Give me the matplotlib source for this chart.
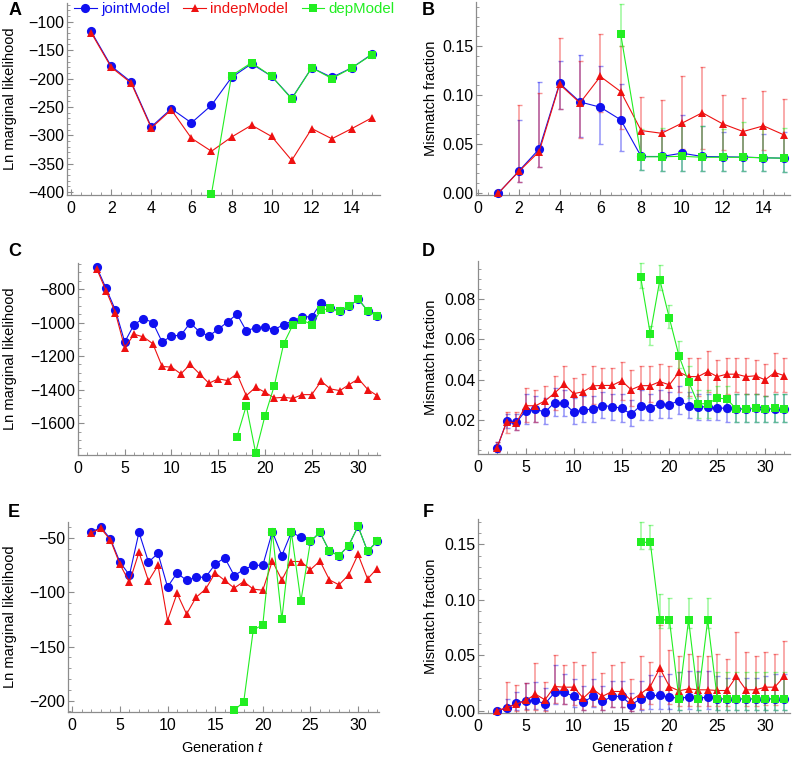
import matplotlib
matplotlib.use("Agg")
import matplotlib.pyplot as plt
from matplotlib.ticker import MultipleLocator, FuncFormatter
import numpy as np

plt.rcParams["font.family"] = ["Liberation Sans", "DejaVu Sans"]
plt.rcParams["mathtext.fontset"] = "custom"
plt.rcParams["mathtext.rm"] = "Liberation Sans"
plt.rcParams["mathtext.it"] = "Liberation Sans:italic"

# ── data ──────────────────────────────────────────────────────────────
t_short = list(range(1, 16))
t_short_dep = list(range(7, 16))
t_long = list(range(2, 33))
t_long_dep = list(range(17, 33))

# A: Ln marginal likelihood, short run
A_joint = [-117, -178, -206, -285, -253, -278, -247, -198, -174, -196, -235, -181, -198, -181, -157]
A_indep = [-119, -180, -208, -287, -255, -305, -328, -303, -282, -302, -344, -288, -306, -288, -269]
A_dep = [-403, -195, -172, -196, -236, -181, -200, -181, -158]

# B: mismatch fraction, short run (value, lower, upper)
B_joint = [0.0, 0.0224, 0.045, 0.112, 0.093, 0.0876, 0.0747, 0.0373, 0.0373, 0.0407, 0.0373, 0.037, 0.0367, 0.036, 0.0356]
B_joint_lo = [0.0, 0.011, 0.027, 0.086, 0.057, 0.050, 0.043, 0.024, 0.023, 0.023, 0.022, 0.022, 0.022, 0.022, 0.021]
B_joint_hi = [0.0, 0.075, 0.113, 0.135, 0.141, 0.130, 0.111, 0.062, 0.064, 0.080, 0.068, 0.062, 0.060, 0.060, 0.062]
B_indep = [0.0, 0.022, 0.0424, 0.111, 0.092, 0.119, 0.1035, 0.0638, 0.061, 0.0713, 0.082, 0.0706, 0.0628, 0.0686, 0.0594]
B_indep_lo = [0.0, 0.011, 0.027, 0.086, 0.056, 0.083, 0.065, 0.040, 0.040, 0.045, 0.045, 0.044, 0.040, 0.044, 0.038]
B_indep_hi = [0.0, 0.090, 0.102, 0.158, 0.135, 0.162, 0.150, 0.098, 0.095, 0.119, 0.129, 0.100, 0.097, 0.104, 0.096]
B_dep = [0.162, 0.037, 0.037, 0.0375, 0.0365, 0.0365, 0.0365, 0.036, 0.0355]
B_dep_lo = [0.150, 0.024, 0.023, 0.023, 0.022, 0.022, 0.022, 0.022, 0.021]
B_dep_hi = [0.193, 0.065, 0.066, 0.070, 0.068, 0.065, 0.073, 0.066, 0.066]

# C: Ln marginal likelihood, long run
C_joint = [-670, -796, -926, -1116, -1012, -976, -1000, -1116, -1080, -1076, -1002, -1056, -1080, -1040, -996,
           -950, -1050, -1030, -1026, -1042, -1012, -990, -966, -966, -882, -916, -932, -900, -862, -932, -960]
C_indep = [-680, -810, -942, -1150, -1070, -1086, -1126, -1262, -1266, -1306, -1250, -1306, -1362, -1336, -1346,
           -1306, -1436, -1386, -1416, -1450, -1446, -1452, -1430, -1430, -1350, -1396, -1406, -1370, -1336, -1400, -1436]
C_dep = [-1682, -1496, -1776, -1556, -1376, -1126, -1012, -986, -1012, -926, -916, -932, -900, -862, -932, -960]

# D: mismatch fraction, long run
D_joint = [0.0062, 0.0192, 0.0187, 0.0246, 0.0253, 0.0238, 0.0286, 0.0283, 0.0238, 0.025, 0.0253, 0.0271, 0.0266,
           0.0258, 0.0228, 0.0271, 0.0261, 0.028, 0.0275, 0.0296, 0.027, 0.0263, 0.0266, 0.0258, 0.0258, 0.0253,
           0.0255, 0.0257, 0.0253, 0.0256, 0.0255]
D_joint_lo = [0.004, 0.016, 0.015, 0.018, 0.019, 0.018, 0.022, 0.022, 0.018, 0.019, 0.019, 0.021, 0.020, 0.019,
              0.017, 0.020, 0.020, 0.021, 0.021, 0.023, 0.021, 0.020, 0.020, 0.020, 0.019, 0.019, 0.019, 0.019,
              0.019, 0.019, 0.019]
D_joint_hi = [0.009, 0.023, 0.023, 0.033, 0.032, 0.031, 0.036, 0.035, 0.031, 0.032, 0.032, 0.034, 0.033, 0.033,
              0.030, 0.035, 0.033, 0.035, 0.034, 0.037, 0.034, 0.033, 0.033, 0.032, 0.032, 0.033, 0.033, 0.033,
              0.032, 0.033, 0.033]
D_indep = [0.0062, 0.019, 0.0185, 0.027, 0.027, 0.0294, 0.0333, 0.0377, 0.033, 0.034, 0.0369, 0.0371, 0.0371,
           0.0394, 0.035, 0.037, 0.037, 0.039, 0.0374, 0.0437, 0.0415, 0.0415, 0.044, 0.0415, 0.0427, 0.0427,
           0.0415, 0.0419, 0.0399, 0.0435, 0.042]
D_indep_lo = [0.004, 0.0135, 0.015, 0.019, 0.019, 0.022, 0.025, 0.028, 0.025, 0.025, 0.028, 0.028, 0.028, 0.030,
              0.027, 0.028, 0.029, 0.030, 0.029, 0.034, 0.032, 0.032, 0.034, 0.033, 0.033, 0.034, 0.033, 0.033,
              0.032, 0.034, 0.034]
D_indep_hi = [0.009, 0.024, 0.024, 0.036, 0.035, 0.037, 0.042, 0.047, 0.041, 0.043, 0.047, 0.046, 0.046, 0.049,
              0.045, 0.047, 0.047, 0.048, 0.047, 0.053, 0.051, 0.051, 0.054, 0.050, 0.051, 0.051, 0.051, 0.050,
              0.048, 0.053, 0.051]
D_dep = [0.0909, 0.0628, 0.0896, 0.0705, 0.0518, 0.039, 0.028, 0.028, 0.0308, 0.0304, 0.0253, 0.0253, 0.0258,
         0.0253, 0.0258, 0.0255]
D_dep_lo = [0.0854, 0.0573, 0.0845, 0.0656, 0.0457, 0.031, 0.021, 0.021, 0.024, 0.024, 0.019, 0.019, 0.019,
            0.019, 0.019, 0.019]
D_dep_hi = [0.0979, 0.0669, 0.097, 0.077, 0.059, 0.047, 0.035, 0.035, 0.037, 0.037, 0.033, 0.033, 0.033,
            0.032, 0.033, 0.033]

# E: Ln marginal likelihood, long run (second case)
E_joint = [-44.5, -39.8, -50.6, -72, -84, -44.5, -72, -64, -95, -82, -89, -86, -86, -74, -68, -84.5, -79, -75,
           -75, -44, -66, -44.5, -49, -53, -44.5, -62, -66, -57, -39, -62, -53]
E_indep = [-45, -41, -51.5, -74, -90.6, -63, -89.4, -75, -126, -101, -120, -104.5, -97, -82, -89, -96, -90, -97,
           -98, -71, -88.5, -71.5, -71.5, -79, -71, -88.5, -93, -84, -65, -87.5, -78]
E_dep = [-209, -201, -134.7, -130, -44, -125, -44.5, -108, -53, -44.5, -62, -66, -57, -39, -62, -53]

# F: mismatch fraction, long run (second case)
F_joint = [0.0, 0.0024, 0.007, 0.009, 0.0093, 0.0063, 0.0165, 0.0168, 0.013, 0.0078, 0.013, 0.0084, 0.013, 0.013,
           0.0054, 0.0108, 0.0138, 0.0138, 0.0123, 0.0114, 0.0123, 0.0114, 0.0123, 0.0108, 0.0108, 0.0108,
           0.0108, 0.0108, 0.0108, 0.0108, 0.0108]
F_joint_lo = [0.0, 0.0, 0.001, 0.002, 0.002, 0.001, 0.006, 0.006, 0.003, 0.001, 0.003, 0.001, 0.003, 0.003, 0.0,
              0.001, 0.002, 0.002, 0.002, 0.001, 0.002, 0.001, 0.002, 0.001, 0.001, 0.001, 0.001, 0.001, 0.001,
              0.001, 0.001]
F_joint_hi = [0.0, 0.011, 0.017, 0.025, 0.026, 0.021, 0.041, 0.033, 0.029, 0.022, 0.029, 0.022, 0.027, 0.027,
              0.016, 0.027, 0.032, 0.031, 0.033, 0.035, 0.036, 0.036, 0.036, 0.031, 0.030, 0.030, 0.030, 0.030,
              0.031, 0.033, 0.033]
F_indep = [0.0, 0.003, 0.006, 0.0093, 0.015, 0.0099, 0.0219, 0.0213, 0.0213, 0.0114, 0.0195, 0.013, 0.0174,
           0.0174, 0.0093, 0.0153, 0.0219, 0.0384, 0.0219, 0.018, 0.0198, 0.0189, 0.0189, 0.0183, 0.0183, 0.031,
           0.0189, 0.0189, 0.0213, 0.0213, 0.031]
F_indep_lo = [0.0, 0.0, 0.0, 0.001, 0.001, 0.0, 0.007, 0.006, 0.005, 0.001, 0.004, 0.001, 0.003, 0.003, 0.0,
              0.002, 0.006, 0.018, 0.006, 0.004, 0.004, 0.004, 0.004, 0.004, 0.004, 0.012, 0.004, 0.004, 0.005,
              0.005, 0.012]
F_indep_hi = [0.0, 0.026, 0.023, 0.0255, 0.043, 0.026, 0.05, 0.041, 0.044, 0.041, 0.053, 0.0345, 0.041, 0.044,
              0.0285, 0.0495, 0.044, 0.0774, 0.055, 0.0495, 0.051, 0.0495, 0.0495, 0.051, 0.0465, 0.0708, 0.0534,
              0.0495, 0.0528, 0.0513, 0.063]
F_dep = [0.152, 0.152, 0.082, 0.082, 0.0108, 0.082, 0.0108, 0.082, 0.0108, 0.0108, 0.0108, 0.0108, 0.0108,
         0.0108, 0.0108, 0.0108]
F_dep_lo = [0.1455, 0.1455, 0.0744, 0.0744, 0.001, 0.0744, 0.001, 0.0744, 0.001, 0.001, 0.001, 0.001, 0.001,
            0.001, 0.001, 0.001]
F_dep_hi = [0.170, 0.168, 0.105, 0.102, 0.035, 0.102, 0.035, 0.102, 0.035, 0.035, 0.035, 0.035, 0.035,
            0.035, 0.035, 0.035]

MODELS = ["jointModel", "indepModel", "depModel"]
COR = {"jointModel": "#1010f0", "indepModel": "#ee1111", "depModel": "#22ee22"}
MARK = {"jointModel": ("o", 6.6), "indepModel": ("^", 6.0), "depModel": ("s", 5.6)}
AXCOL = "#8c8c8c"

W, H = 794, 758
fig = plt.figure(figsize=(W / 100, H / 100), dpi=100)


def eixo(l, r, t, b):
    return fig.add_axes([l / W, 1 - b / H, (r - l) / W, (b - t) / H])


def fmt_menos(fmt):
    return FuncFormatter(lambda v, p: (fmt % v).replace("-", "\u2212"))


def estilo(ax, xlim, ylim, xmaj, xmin, ymaj, ymin, fmt):
    ax.set_xlim(*xlim)
    ax.set_ylim(*ylim)
    for s in ("top", "right"):
        ax.spines[s].set_visible(False)
    for s in ("left", "bottom"):
        ax.spines[s].set_color(AXCOL)
        ax.spines[s].set_linewidth(0.9)
    ax.xaxis.set_major_locator(MultipleLocator(xmaj))
    ax.xaxis.set_minor_locator(MultipleLocator(xmin))
    ax.yaxis.set_major_locator(MultipleLocator(ymaj))
    ax.yaxis.set_minor_locator(MultipleLocator(ymin))
    ax.yaxis.set_major_formatter(fmt_menos(fmt))
    ax.tick_params(which="major", direction="in", length=4, width=0.8, color=AXCOL,
                   labelsize=11.5, pad=2)
    ax.tick_params(axis="x", which="major", pad=4)
    ax.tick_params(which="minor", direction="in", length=2.2, width=0.6, color=AXCOL)
    ax.patch.set_alpha(0)


def serie(ax, x, y, nome, lo=None, hi=None):
    cor = COR[nome]
    if lo is not None:
        y_ = np.array(y)
        err = [np.clip(y_ - np.array(lo), 0, None), np.clip(np.array(hi) - y_, 0, None)]
        ax.errorbar(x, y, yerr=err, fmt="none", ecolor=cor, alpha=0.45, elinewidth=1.1,
                    capsize=1.8, capthick=1.0, zorder=2, clip_on=False)
    m, ms = MARK[nome]
    return ax.plot(x, y, color=cor, lw=0.8, marker=m, ms=ms, mec=cor, mew=0,
                   zorder=3, clip_on=False, label=nome)[0]


# ── A ──
axA = eixo(67, 380, 3, 195)
hA = [serie(axA, t_short, A_joint, "jointModel"),
      serie(axA, t_short, A_indep, "indepModel"),
      serie(axA, t_short_dep, A_dep, "depModel")]
estilo(axA, (-0.2, 15.4), (-405, -67), 2, 0.5, 50, 10, "%d")

# ── B ──
axB = eixo(476, 790, 2, 195)
serie(axB, t_short, B_joint, "jointModel", B_joint_lo, B_joint_hi)
serie(axB, t_short, B_indep, "indepModel", B_indep_lo, B_indep_hi)
serie(axB, t_short_dep, B_dep, "depModel", B_dep_lo, B_dep_hi)
estilo(axB, (-0.1, 15.3), (-0.002, 0.195), 2, 0.5, 0.05, 0.01, "%.2f")

# ── C ──
axC = eixo(78, 380, 263, 455)
serie(axC, t_long, C_joint, "jointModel")
serie(axC, t_long, C_indep, "indepModel")
serie(axC, t_long_dep, C_dep, "depModel")
estilo(axC, (0, 32.3), (-1790, -645), 5, 1, 200, 50, "%d")

# ── D ──
axD = eixo(478, 790, 261, 454)
serie(axD, t_long, D_joint, "jointModel", D_joint_lo, D_joint_hi)
serie(axD, t_long, D_indep, "indepModel", D_indep_lo, D_indep_hi)
serie(axD, t_long_dep, D_dep, "depModel", D_dep_lo, D_dep_hi)
estilo(axD, (0, 32.6), (0.003, 0.099), 5, 1, 0.02, 0.005, "%.2f")

# ── E ──
axE = eixo(68, 379, 522, 712)
serie(axE, t_long, E_joint, "jointModel")
serie(axE, t_long, E_indep, "indepModel")
serie(axE, t_long_dep, E_dep, "depModel")
estilo(axE, (-0.45, 32.2), (-210.5, -35), 5, 1, 50, 10, "%d")

# ── F ──
axF = eixo(478, 790, 519, 713)
serie(axF, t_long, F_joint, "jointModel", F_joint_lo, F_joint_hi)
serie(axF, t_long, F_indep, "indepModel", F_indep_lo, F_indep_hi)
serie(axF, t_long_dep, F_dep, "depModel", F_dep_lo, F_dep_hi)
estilo(axF, (0, 32.6), (-0.002, 0.173), 5, 1, 0.05, 0.01, "%.2f")

# rótulos dos eixos
for ax, txt, xc in [(axA, "Ln marginal likelihood", 10), (axC, "Ln marginal likelihood", 10),
                    (axE, "Ln marginal likelihood", 10), (axB, "Mismatch fraction", 431),
                    (axD, "Mismatch fraction", 431), (axF, "Mismatch fraction", 431)]:
    pos = ax.get_position()
    fig.text(xc / W, pos.y0 + pos.height / 2, txt, rotation=90, ha="center", va="center", fontsize=10.5)

fig.text(223 / W, 1 - 748 / H, "Generation $t$", ha="center", va="center", fontsize=10.5)
fig.text(633 / W, 1 - 748 / H, "Generation $t$", ha="center", va="center", fontsize=10.5)

for letra, x, y in [("A", 9, 2), ("B", 422, 2), ("C", 8, 243), ("D", 422, 243),
                    ("E", 8, 504), ("F", 423, 504)]:
    fig.text(x / W, 1 - y / H, letra, ha="left", va="top", fontsize=13, fontweight="bold")

leg = fig.legend(hA, MODELS, loc="upper left", bbox_to_anchor=(74 / W, 1 - 2 / H), ncol=3,
                 frameon=False, fontsize=10.8, handlelength=1.5, handletextpad=0.3,
                 columnspacing=0.9, borderaxespad=0, borderpad=0)
for txt, nome in zip(leg.get_texts(), MODELS):
    txt.set_color(COR[nome])

fig.savefig("out.png", dpi=100)
